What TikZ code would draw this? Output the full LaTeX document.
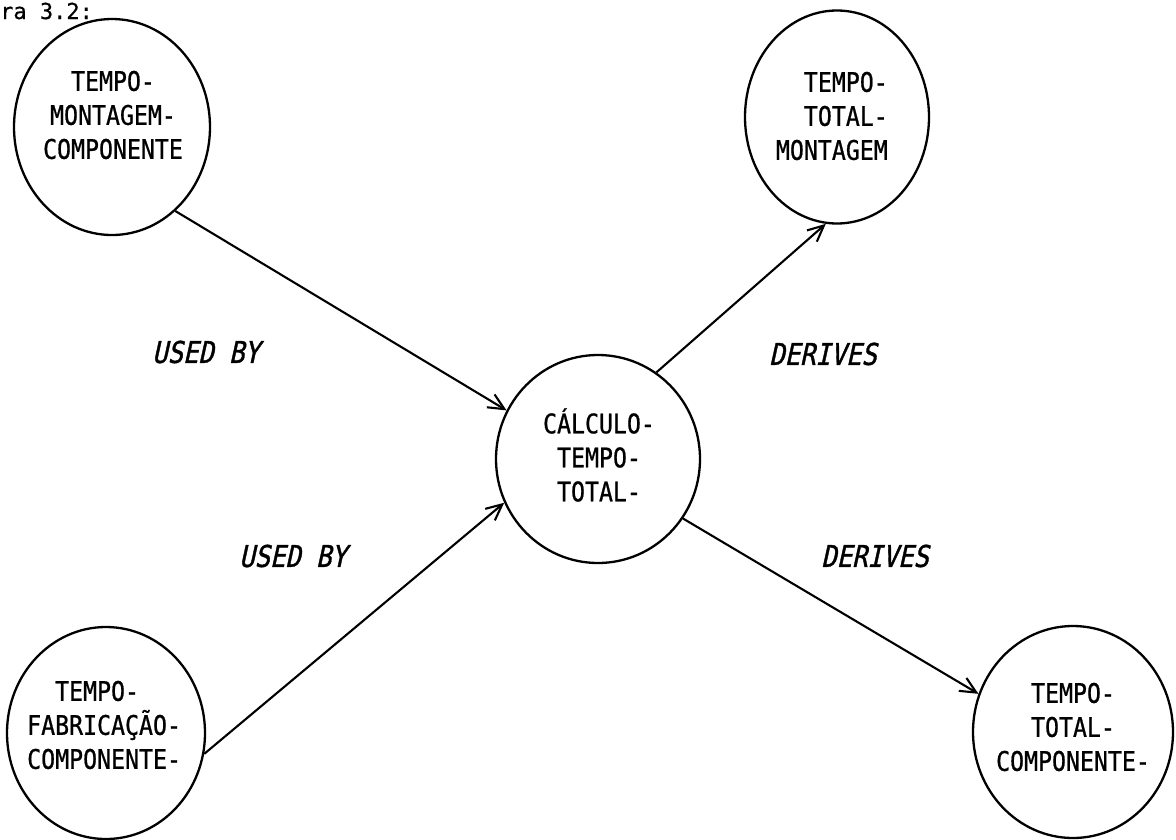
\documentclass[tikz,border=0pt]{standalone}
\usepackage{fontspec}
\usetikzlibrary{shapes.geometric,arrows.meta}
% plotter-style lettering for the entity bubbles and the caption
\newfontfamily\plotfont[FakeStretch=0.86,FakeBold=0.8]{DejaVu Sans Mono}
\newfontfamily\capfont[FakeBold=0.6]{DejaVu Sans Mono}
% slanted hand lettering for the relation names
\newfontfamily\handfont[FakeStretch=0.85,FakeSlant=0.22,FakeBold=1.2]{DejaVu Sans Mono}
\begin{document}
\begin{tikzpicture}[x=1pt,y=-1pt,
  entity/.style={ellipse,draw,line width=2.3pt,inner sep=0pt},
  ctext/.style={font=\plotfont\fontsize{27}{34}\selectfont,align=center,inner sep=0pt},
  rel/.style={font=\handfont\fontsize{30}{30}\selectfont,inner sep=0pt},
  flow/.style={line width=2.1pt,-{Straight Barb[length=16pt,width=15pt,line width=2.1pt]}}]
\useasboundingbox (0,0) rectangle (1176,839);

% caption fragment
\node[font=\capfont\fontsize{22}{22}\selectfont,anchor=base west,inner sep=0pt] (cap) at (0,19) {ra 3.2:};

% entity bubbles
\node[entity,minimum width=196pt,minimum height=216pt] (tmc) at (112,127) {};
\node[entity,minimum width=184pt,minimum height=213pt] (ttm) at (837,117) {};
\node[entity,minimum width=204pt,minimum height=208pt] (ctt) at (598,459) {};
\node[entity,minimum width=198pt,minimum height=212pt] (tfc) at (106,733) {};
\node[entity,minimum width=200pt,minimum height=212pt] (ttc) at (1073,732) {};

% bubble texts
\node[ctext] (tmc-t) at (113,115) {TEMPO-\\MONTAGEM-\\COMPONENTE};
\node[ctext,align=right,anchor=east] (ttm-t) at (888,116) {TEMPO-\\TOTAL-\\MONTAGEM};
\node[ctext] (ctt-t) at (599,455) {CÁLCULO-\\TEMPO-\\TOTAL-};
\node[ctext,align=left,anchor=west] (tfc-t) at (27,725) {\phantom{XX}TEMPO-\\FABRICAÇÃO-\\COMPONENTE-};
\node[ctext] (ttc-t) at (1073,727) {TEMPO-\\TOTAL-\\COMPONENTE-};

% data flows
\draw[flow] (tmc.-53.1) -- (ctt.152.4);
\draw[flow] (tfc.-12.9) -- (ctt.205.6);
\draw[flow] (ctt.56.8) -- (ttm.264.6);
\draw[flow] (ctt.-35.6) -- (ttc.158.9);

% relation names
\node[rel] (used1) at (206,352) {USED BY};
\node[rel] (used2) at (293,556) {USED BY};
\node[rel] (der1) at (823,354) {DERIVES};
\node[rel] (der2) at (875,556) {DERIVES};
\end{tikzpicture}
\end{document}
